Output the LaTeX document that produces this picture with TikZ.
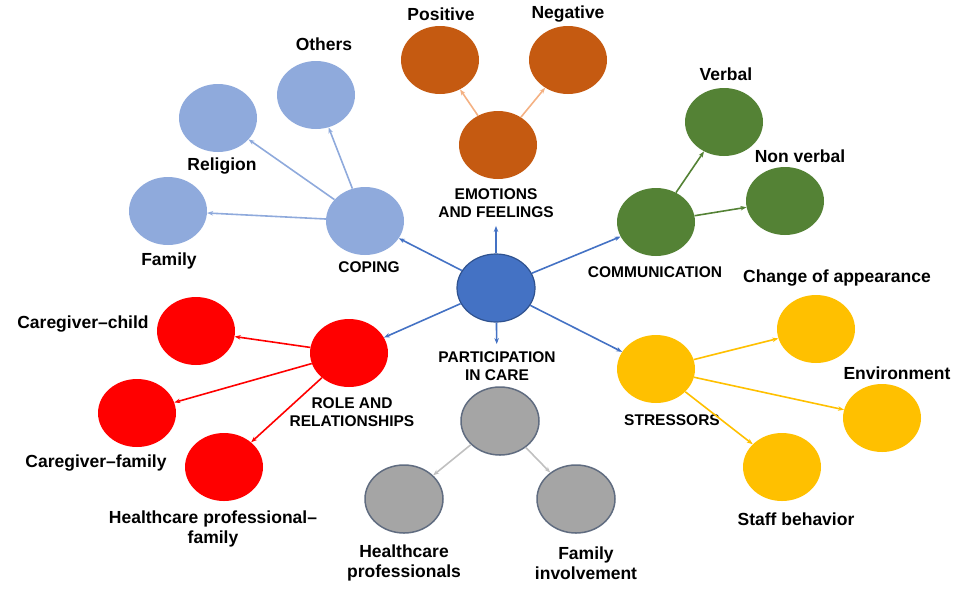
\documentclass[tikz,border=0pt]{standalone}
\usepackage{fontspec}
\setmainfont{Liberation Sans}
\usetikzlibrary{shapes.geometric}
\usetikzlibrary{arrows,arrows.meta}
\definecolor{hub}{RGB}{68,114,196}
\definecolor{hubline}{RGB}{47,82,143}
\definecolor{coping}{RGB}{143,170,220}
\definecolor{emotion}{RGB}{197,90,17}
\definecolor{emotion-arrow}{RGB}{244,177,131}
\definecolor{talk}{RGB}{84,130,53}
\definecolor{stress}{RGB}{255,192,0}
\definecolor{role}{RGB}{255,0,0}
\definecolor{care}{RGB}{165,165,165}
\definecolor{careline}{RGB}{96,108,128}
\colorlet{care-arrow}{care!70}

\tikzset{
  topic/.style={ellipse, minimum width=78, minimum height=68, inner sep=0pt},
  lbl/.style={font=\fontsize{17.5}{20}\selectfont\bfseries, align=center, inner sep=0pt},
  caplbl/.style={font=\fontsize{15.5}{18.5}\selectfont\bfseries, align=center, inner sep=0pt},
  link/.style={line width=1.6, -{Stealth[length=6pt,width=4.5pt]}},
}

\begin{document}
\begin{tikzpicture}[x=1pt, y=-1pt]

    \useasboundingbox (0,0) rectangle (955,598);

    % center and the six themes
    \node[topic, fill=hub, draw=hubline, line width=1.2] (center) at (496,288) {};
    \node[topic, fill=coping] (coping) at (365,221) {};
    \node[topic, fill=emotion] (emo) at (498,145) {};
    \node[topic, fill=talk] (comm) at (656,222) {};
    \node[topic, fill=stress] (stress) at (656,369) {};
    \node[topic, fill=role] (roles) at (349,353) {};
    \node[topic, fill=care, draw=careline, line width=1.5] (partic) at (500,421) {};

    % subthemes
    \node[topic, fill=coping] (others) at (316,95) {};
    \node[topic, fill=coping] (religion) at (218,118) {};
    \node[topic, fill=coping] (family) at (168,211) {};

    \node[topic, fill=emotion] (positive) at (440,60) {};
    \node[topic, fill=emotion] (negative) at (568,60) {};

    \node[topic, fill=talk] (verbal) at (724,122) {};
    \node[topic, fill=talk] (nonverbal) at (785,201) {};

    \node[topic, fill=stress] (appear) at (816,329) {};
    \node[topic, fill=stress] (environ) at (882,418) {};
    \node[topic, fill=stress] (staff) at (782,467) {};

    \node[topic, fill=role] (cgchild) at (196,331) {};
    \node[topic, fill=role] (cgfamily) at (137,413) {};
    \node[topic, fill=role] (hpfamily) at (224,467) {};

    \node[topic, fill=care, draw=careline, line width=1.5] (hprof) at (404,499) {};
    \node[topic, fill=care, draw=careline, line width=1.5] (faminv) at (576,499) {};

    % labels
    \node[caplbl] (lcoping) at (369,267) {COPING};
    \node[caplbl] (lemo) at (496,203) {EMOTIONS\\AND FEELINGS};
    \node[caplbl] (lcomm) at (655,272) {COMMUNICATION};
    \node[caplbl] (lstress) at (672,420) {STRESSORS};
    \node[caplbl] (lroles) at (352,412) {ROLE AND\\RELATIONSHIPS};
    \node[caplbl] (lpartic) at (497,366) {PARTICIPATION\\IN CARE};

    \node[lbl] (lothers) at (324,44) {Others};
    \node[lbl] (lreligion) at (222,166) {Religion};
    \node[lbl] (lfamily) at (169,261) {Family};
    \node[lbl] (lpositive) at (441,14) {Positive};
    \node[lbl] (lnegative) at (568,14) {Negative};
    \node[lbl] (lverbal) at (726,74) {Verbal};
    \node[lbl] (lnonverbal) at (800,156) {Non verbal};
    \node[lbl] (lappear) at (837,278) {Change of appearance};
    \node[lbl] (lenviron) at (897,373) {Environment};
    \node[lbl] (lstaff) at (796,519) {Staff behavior};
    \node[lbl] (lcgchild) at (83,324) {Caregiver--child};
    \node[lbl] (lcgfamily) at (96,463) {Caregiver--family};
    \node[lbl] (lhpfamily) at (213,529) {Healthcare professional--\\family};
    \node[lbl] (lhprof) at (404,563) {Healthcare\\professionals};
    \node[lbl] (lfaminv) at (586,563) {Family\\involvement};

    % arrows from the center
    \draw[link, hub] (center) -- (coping);
    \draw[link, hub, shorten >=8pt] (center) -- (lemo);
    \draw[link, hub] (center) -- (comm);
    \draw[link, hub] (center) -- (roles);
    \draw[link, hub, shorten >=7pt] (center) -- (lpartic);
    \draw[link, hub] (center) -- (stress);

    % arrows to the subthemes
    \draw[link, coping] (coping) -- (others);
    \draw[link, coping] (coping) -- (religion);
    \draw[link, coping] (coping) -- (family);

    \draw[link, emotion-arrow] (emo) -- (positive);
    \draw[link, emotion-arrow] (emo) -- (negative);

    \draw[link, talk] (comm) -- (verbal);
    \draw[link, talk] (comm) -- (nonverbal);

    \draw[link, stress] (stress) -- (appear);
    \draw[link, stress] (stress) -- (environ);
    \draw[link, stress] (stress) -- (staff);

    \draw[link, role] (roles) -- (cgchild);
    \draw[link, role] (roles) -- (cgfamily);
    \draw[link, role] (roles) -- (hpfamily);

    \draw[link, care-arrow] (partic) -- (hprof);
    \draw[link, care-arrow] (partic) -- (faminv);

\end{tikzpicture}
\end{document}
